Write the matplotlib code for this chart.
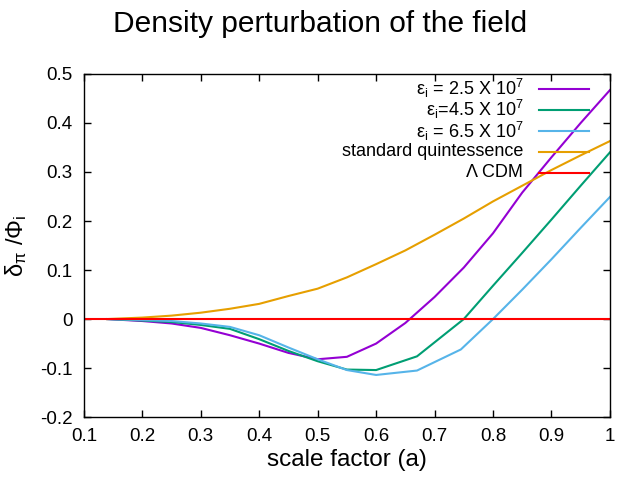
import numpy as np
import matplotlib
matplotlib.use('Agg')
import matplotlib.pyplot as plt
from matplotlib.ticker import FuncFormatter

plt.rcParams['font.family'] = ['Liberation Sans', 'DejaVu Sans']
plt.rcParams['mathtext.fontset'] = 'custom'
plt.rcParams['mathtext.rm'] = 'Liberation Sans'
plt.rcParams['mathtext.it'] = 'Liberation Sans'

# values
a_grid = [0.14, 0.2, 0.25, 0.3, 0.35, 0.4, 0.45, 0.5, 0.55, 0.6, 0.65, 0.7, 0.75,
          0.8, 0.85, 0.9, 0.95, 1.0]
eps_25 = [0.0, -0.004, -0.009, -0.018, -0.033, -0.05, -0.069, -0.082, -0.077, -0.05,
          -0.008, 0.045, 0.105, 0.175, 0.258, 0.33, 0.4, 0.467]

a_45 = [0.14, 0.2, 0.25, 0.3, 0.35, 0.4, 0.45, 0.5, 0.55, 0.6, 0.67, 0.75, 0.8, 0.85,
        0.9, 0.95, 1.0]
eps_45 = [0.0, -0.003, -0.006, -0.012, -0.02, -0.041, -0.065, -0.086, -0.103, -0.104,
          -0.076, 0.0, 0.068, 0.135, 0.203, 0.272, 0.34]

a_65 = [0.14, 0.2, 0.25, 0.3, 0.35, 0.4, 0.45, 0.5, 0.55, 0.6, 0.67, 0.745, 0.8, 0.85,
        0.9, 0.95, 1.0]
eps_65 = [0.0, -0.002, -0.004, -0.009, -0.016, -0.033, -0.058, -0.082, -0.104, -0.114,
          -0.105, -0.062, 0.0, 0.06, 0.122, 0.186, 0.249]

quint = [0.0, 0.003, 0.007, 0.013, 0.021, 0.031, 0.047, 0.062, 0.085, 0.112, 0.14,
         0.172, 0.205, 0.24, 0.272, 0.304, 0.334, 0.363]

lcdm_a = [0.1, 1.0]
lcdm = [0.0, 0.0]

labels = [r'ε$_{\mathregular{ i}}$ = 2.5 X 10$^{\mathregular{ 7}}$',
          r'ε$_{\mathregular{ i}}$=4.5 X 10$^{\mathregular{ 7}}$',
          r'ε$_{\mathregular{ i}}$ = 6.5 X 10$^{\mathregular{ 7}}$',
          'standard quintessence',
          'Λ CDM']
colors = ['#9400d3', '#009e73', '#56b4e9', '#e69f00', '#ff0000']

fig = plt.figure(figsize=(6.4, 4.8), dpi=100)
ax = fig.add_axes([0.131, 0.131, 0.822, 0.715])

series = [(a_grid, eps_25), (a_45, eps_45), (a_65, eps_65), (a_grid, quint), (lcdm_a, lcdm)]
for (xs, ys), c in zip(series, colors):
    ax.plot(xs, ys, color=c, lw=1.5)

# gnuplot-style key: right-aligned text, sample line to its right
for i, (lab, c) in enumerate(zip(labels, colors)):
    yk = 1 - (15 + 21 * i) / 343.0
    ax.text(0.835, yk, lab, transform=ax.transAxes, ha='right', va='center', fontsize=13)
    ax.plot([0.865, 0.96], [yk, yk], transform=ax.transAxes, color=c, lw=1.5, clip_on=False)

ax.set_xlim(0.1, 1.0)
ax.set_ylim(-0.2, 0.5)
ax.set_xticks(np.arange(0.1, 1.01, 0.1))
ax.set_yticks(np.arange(-0.2, 0.51, 0.1))
ax.xaxis.set_major_formatter(FuncFormatter(lambda v, p: '%g' % round(v, 2)))
ax.yaxis.set_major_formatter(FuncFormatter(lambda v, p: '%g' % round(v, 2)))
ax.tick_params(direction='in', top=True, right=True, labelsize=13.5, length=5, width=1)
ax.tick_params(axis='x', pad=8)
ax.tick_params(axis='y', pad=8)
for s in ax.spines.values():
    s.set_linewidth(1)

ax.set_xlabel('scale factor (a)', fontsize=17.5, labelpad=3)
ax.set_ylabel(r'δ$_{\mathregular{π}}$ /Φ$_{\mathregular{i}}$', fontsize=17, labelpad=8)
fig.suptitle('Density perturbation of the field', fontsize=21.5, x=0.5, y=0.98)

fig.savefig('out.png', dpi=100)
